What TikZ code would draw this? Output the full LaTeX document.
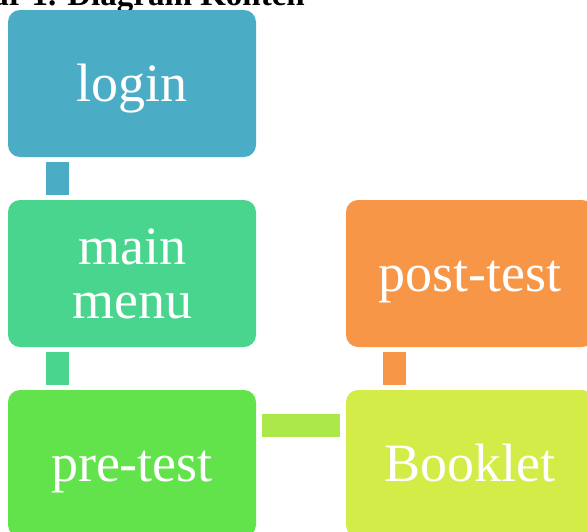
\documentclass[tikz,border=0pt]{standalone}
\usepackage{fontspec}
\setmainfont{Liberation Serif}
\usepackage{tikz}
\usetikzlibrary{positioning}

\definecolor{loginblue}{HTML}{4BACC6}
\definecolor{menugreen}{HTML}{4AD58F}
\definecolor{pregreen}{HTML}{62E34B}
\definecolor{postorange}{HTML}{F79646}
\definecolor{bookletlime}{HTML}{D4EC48}
\definecolor{barlime}{HTML}{ADE84A}

\begin{document}
\begin{tikzpicture}[
  x=1pt, y=-1pt,
  node distance=43pt and 90pt,
  box/.style={rectangle, rounded corners=12pt, minimum width=248pt, minimum height=147pt, inner sep=0pt, outer sep=0pt, align=center, text=white, font=\fontsize{54}{54}\selectfont},
  oneline/.style={text height=48pt, text depth=12pt},
  caption/.style={anchor=base east, inner sep=0pt, font=\bfseries\fontsize{33}{33}\selectfont}
]
\useasboundingbox (0,0) rectangle (587,531);
\clip (0,0) rectangle (587,531);

\node[caption] (title) at (305,5) {Gambar 1. Diagram Konten};

\node[box, oneline, fill=loginblue] (login) at (132,83.5) {login};
\node[box, fill=menugreen, below=of login] (menu) {main\\menu};
\node[box, oneline, fill=pregreen, below=of menu] (pre) {pre-test};
\node[box, oneline, fill=postorange, right=of menu] (post) {post-test};
\node[box, oneline, fill=bookletlime, below=of post] (booklet) {Booklet};

% connecting bars
\fill[loginblue] ([xshift=38pt,yshift=-5pt]login.south west) rectangle ([xshift=61pt,yshift=5pt]menu.north west);
\fill[menugreen] ([xshift=38pt,yshift=-5pt]menu.south west) rectangle ([xshift=61pt,yshift=5pt]pre.north west);
\fill[barlime] ([xshift=6pt,yshift=-24pt]pre.north east) rectangle ([xshift=-6pt,yshift=-47pt]booklet.north west);
\fill[postorange] ([xshift=37pt,yshift=-5pt]post.south west) rectangle ([xshift=60pt,yshift=5pt]booklet.north west);

\end{tikzpicture}
\end{document}
